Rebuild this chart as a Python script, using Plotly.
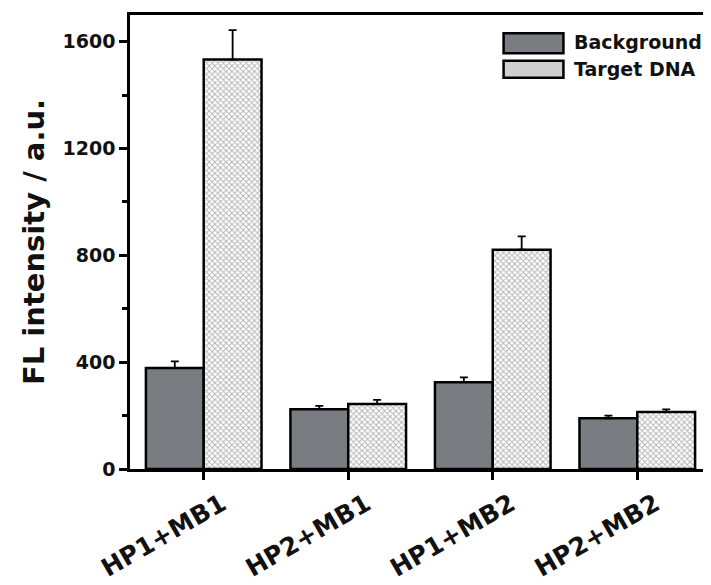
import plotly.graph_objects as go

categories = ["HP1+MB1", "HP2+MB1", "HP1+MB2", "HP2+MB2"]
background_vals = [378, 224, 325, 190]
background_err = [25, 12, 18, 10]
target_vals = [1533, 243, 821, 213]
target_err = [110, 16, 50, 10]
y_ticks = [0, 400, 800, 1200, 1600]

FONT = "DejaVu Sans"

fig = go.Figure()
fig.add_trace(go.Bar(
    x=categories, y=background_vals, name="Background",
    marker=dict(color="#797d81", line=dict(color="black", width=2.5)),
    error_y=dict(type="data", array=background_err, arrayminus=[0]*4, symmetric=False,
                 color="black", thickness=1.8, width=4),
    showlegend=False,
))
fig.add_trace(go.Bar(
    x=categories, y=target_vals, name="Target DNA",
    marker=dict(color="white", line=dict(color="black", width=2.5),
                pattern=dict(shape="x", fgcolor="#666666", bgcolor="white", size=4, solidity=0.42)),
    error_y=dict(type="data", array=target_err, arrayminus=[0]*4, symmetric=False,
                 color="black", thickness=1.8, width=4),
    showlegend=False,
))

# manual legend (paper coords)
fig.add_shape(type="rect", xref="paper", yref="paper", x0=0.643, x1=0.746, y0=0.916, y1=0.960,
              fillcolor="#797d81", line=dict(color="black", width=2.5))
fig.add_shape(type="rect", xref="paper", yref="paper", x0=0.643, x1=0.746, y0=0.862, y1=0.899,
              fillcolor="#cfcfcf", line=dict(color="black", width=2.5))
fig.add_annotation(xref="paper", yref="paper", x=0.761, y=0.940, text="Background", showarrow=False,
                   xanchor="left", yanchor="middle", font=dict(family=FONT, size=19, color="#111", weight="bold"))
fig.add_annotation(xref="paper", yref="paper", x=0.761, y=0.880, text="Target DNA", showarrow=False,
                   xanchor="left", yanchor="middle", font=dict(family=FONT, size=19, color="#111", weight="bold"))

fig.update_layout(
    width=703, height=577,
    margin=dict(l=122, r=0, t=7, b=116),
    paper_bgcolor="white", plot_bgcolor="white",
    barmode="group", bargap=0.2, bargroupgap=0,
    font=dict(family=FONT, color="black"),
)
fig.update_xaxes(
    range=[-0.51, 3.51], showline=True, linecolor="black", linewidth=2.5, mirror=True,
    ticks="outside", ticklen=8, tickwidth=2.5, tickcolor="black", tickangle=-30, automargin=False,
    ticklabelshift=18,
    tickfont=dict(family=FONT, size=25, color="#111", weight="bold"),
)
fig.update_yaxes(
    range=[0, 1700], tickvals=y_ticks, showline=True, linecolor="black", linewidth=2.5, mirror=True,
    ticks="outside", ticklen=8, tickwidth=2.5, tickcolor="black", showgrid=False, zeroline=False,
    automargin=False,
    minor=dict(dtick=200, ticks="outside", ticklen=5, tickwidth=2.5, tickcolor="black", showgrid=False),
    tickfont=dict(family=FONT, size=19, color="#111", weight="bold"),
    title=dict(text="FL intensity / a.u.", font=dict(family=FONT, size=29, color="#111", weight="bold"), standoff=10),
)
fig.write_html("out.html")
